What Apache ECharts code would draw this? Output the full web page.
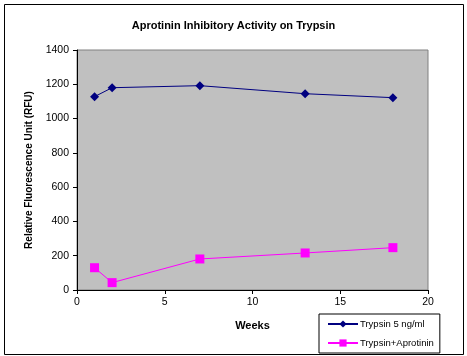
<!DOCTYPE html>
<html><head><meta charset="utf-8">
<script src="https://cdn.jsdelivr.net/npm/echarts@6/dist/echarts.min.js"></script>
<style>html,body{margin:0;padding:0;background:#fff}#c{width:467px;height:356px}</style>
</head><body><div id="c"></div>
<script>
const weeks = [1, 2, 7, 13, 18];
const trypsin = [1128, 1180, 1192, 1145, 1122];
const trypsinAprotinin = [130, 43, 181, 216, 247];
const seriesNames = ['Trypsin 5 ng/ml', 'Trypsin+Aprotinin'];
const title = 'Aprotinin Inhibitory Activity on Trypsin';
const xName = 'Weeks';
const yName = 'Relative Fluorescence Unit (RFU)';

const chart = echarts.init(document.getElementById('c'), null, {renderer: 'canvas'});
const font = 'Arial, "Liberation Sans", sans-serif';
chart.setOption({
  animation: false,
  backgroundColor: '#fff',
  textStyle: {fontFamily: font},
  title: {text: title, left: 'center', top: 15,
    textStyle: {fontSize: 11, fontWeight: 'bold', color: '#000', fontFamily: font}},
  graphic: [{type: 'rect', shape: {x: 4.5, y: 4.5, width: 459, height: 350},
    style: {fill: 'none', stroke: '#000', lineWidth: 1}, z: 100}],
  grid: {left: 77, top: 50, width: 351, height: 240, show: true,
    backgroundColor: '#C0C0C0', borderColor: '#808080', borderWidth: 1},
  legend: {orient: 'vertical', left: 319, top: 314,
    padding: [5, 6, 5, 8], itemGap: 9, itemWidth: 30, itemHeight: 9,
    borderColor: '#000', borderWidth: 1, backgroundColor: '#fff',
    textStyle: {fontSize: 9.5, color: '#000', fontFamily: font, padding: [0, 0, 0, -3]},
    data: seriesNames},
  xAxis: {type: 'value', min: 0, max: 20, interval: 5,
    name: xName, nameLocation: 'middle', nameGap: 30,
    nameTextStyle: {fontSize: 11, fontWeight: 'bold', color: '#000'},
    axisLine: {lineStyle: {color: '#000'}},
    axisTick: {show: true, length: 4, lineStyle: {color: '#000'}},
    axisLabel: {fontSize: 10.5, color: '#000', margin: 7},
    splitLine: {show: false}},
  yAxis: {type: 'value', min: 0, max: 1400, interval: 200,
    name: yName, nameLocation: 'middle', nameGap: 40,
    nameTextStyle: {fontSize: 10, fontWeight: 'bold', color: '#000'},
    axisLine: {show: true, lineStyle: {color: '#000'}},
    axisTick: {show: true, length: 4, lineStyle: {color: '#000'}},
    axisLabel: {fontSize: 10.5, color: '#000', margin: 8, formatter: v => String(v)},
    splitLine: {show: false}},
  series: [
    {name: seriesNames[0], type: 'line', data: weeks.map((w, i) => [w, trypsin[i]]),
     symbol: 'diamond', symbolSize: 9, color: '#000080',
     lineStyle: {width: 1, color: '#000080'}, itemStyle: {color: '#000080'}},
    {name: seriesNames[1], type: 'line', data: weeks.map((w, i) => [w, trypsinAprotinin[i]]),
     symbol: 'rect', symbolSize: 9, color: '#FF00FF',
     lineStyle: {width: 1, color: '#FF00FF'}, itemStyle: {color: '#FF00FF'}}
  ]
});
</script></body></html>
